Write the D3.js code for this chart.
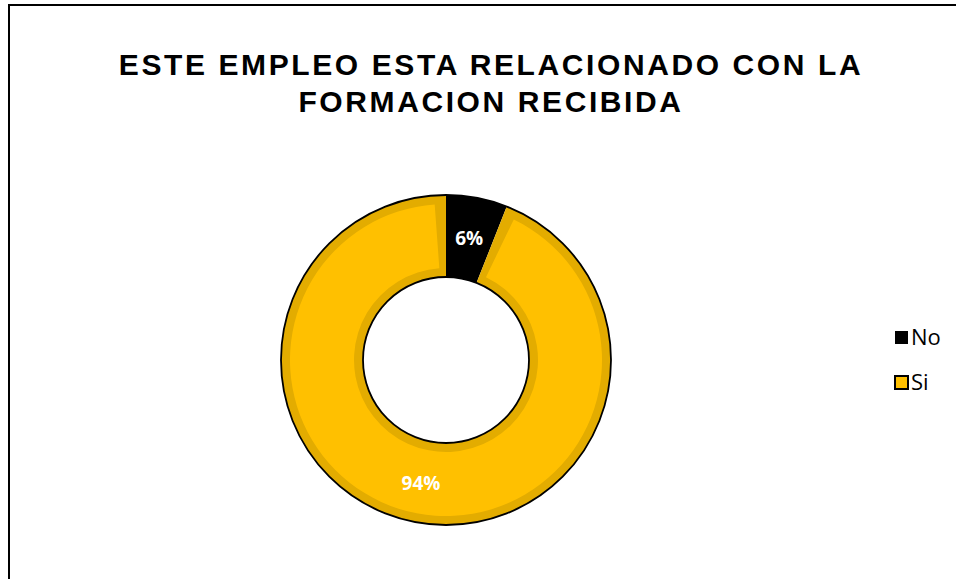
<!DOCTYPE html>
<html>
<head>
<meta charset="utf-8">
<title>Empleo y formacion</title>
<style>
  body { margin: 0; background: #fff; }
  .title { font-family: "Liberation Sans", Arial, sans-serif; font-weight: bold; font-size: 30px; letter-spacing: 2.6px; fill: #000; text-anchor: middle; }
  .pct { font-family: "Open Sans", sans-serif; font-weight: bold; font-size: 19px; fill: #fff; text-anchor: middle; }
  .legend text { font-family: "Open Sans", sans-serif; font-size: 22px; fill: #000; }
</style>
</head>
<body>
<svg width="956" height="579"></svg>
<script src="https://cdn.jsdelivr.net/npm/d3@7"></script>
<script>
// data
var categories = ["No", "Si"];
var values = [6, 94];
var labels = ["6%", "94%"];
var titleLines = ["ESTE EMPLEO ESTA RELACIONADO CON LA", "FORMACION RECIBIDA"];

var fills = ["#000000", "#FFC000"];
var edges = ["#000000", "#E3AC00"];

var svg = d3.select("svg");

// chart frame (right and bottom run off the picture)
svg.append("rect")
    .attr("x", 9).attr("y", 5)
    .attr("width", 960).attr("height", 600)
    .attr("fill", "none")
    .attr("stroke", "#000")
    .attr("stroke-width", 2);

// title
svg.append("text")
    .attr("class", "title")
    .selectAll("tspan")
    .data(titleLines)
    .enter().append("tspan")
    .attr("x", 491)
    .attr("y", function (d, i) { return 75 + i * 37; })
    .text(function (d) { return d; });

var cx = 446, cy = 360, rOuter = 165, rInner = 83;

var pie = d3.pie().sort(null).value(function (d) { return d; });
var arcs = pie(values);

var g = svg.append("g").attr("transform", "translate(" + cx + "," + cy + ")");

var arcOuter = d3.arc().innerRadius(rInner).outerRadius(rOuter);
// inner face of each slice, giving the bevelled edge look
var inset = 9;
var arcInner = d3.arc()
    .innerRadius(rInner + inset)
    .outerRadius(rOuter - inset)
    .startAngle(function (d) { return d.startAngle + inset / ((rInner + rOuter) / 2); })
    .endAngle(function (d) { return d.endAngle - inset / ((rInner + rOuter) / 2); });

g.selectAll("path.edge")
    .data(arcs)
    .enter().append("path")
    .attr("class", "edge")
    .attr("d", arcOuter)
    .attr("fill", function (d, i) { return edges[i]; });

g.selectAll("path.face")
    .data(arcs)
    .enter().append("path")
    .attr("class", "face")
    .attr("d", arcInner)
    .attr("fill", function (d, i) { return fills[i]; });

// thin black rims
g.append("circle").attr("r", rOuter).attr("fill", "none").attr("stroke", "#000").attr("stroke-width", 1.8);
g.append("circle").attr("r", rInner).attr("fill", "#fff").attr("stroke", "#000").attr("stroke-width", 1.8);

// percentage labels
var labelPos = [[23, -113], [-25, 123]];
g.selectAll("text.pct")
    .data(arcs)
    .enter().append("text")
    .attr("class", "pct")
    .attr("x", function (d, i) {
        var c = arcOuter.centroid(d);
        return i === 0 ? c[0] : labelPos[i][0];
    })
    .attr("y", function (d, i) {
        var c = arcOuter.centroid(d);
        return (i === 0 ? c[1] : labelPos[i][1]) + 7;
    })
    .text(function (d, i) { return labels[i]; });

// legend
var legend = svg.append("g").attr("class", "legend");
var item = legend.selectAll("g")
    .data(categories)
    .enter().append("g")
    .attr("transform", function (d, i) { return "translate(895," + (331 + i * 45) + ")"; });
item.append("rect")
    .attr("width", 13).attr("height", 13)
    .attr("fill", function (d, i) { return fills[i]; })
    .attr("stroke", "#000")
    .attr("stroke-width", function (d, i) { return i === 0 ? 0 : 2; });
item.append("text")
    .attr("x", 16).attr("y", 14)
    .text(function (d) { return d; });
</script>
</body>
</html>
